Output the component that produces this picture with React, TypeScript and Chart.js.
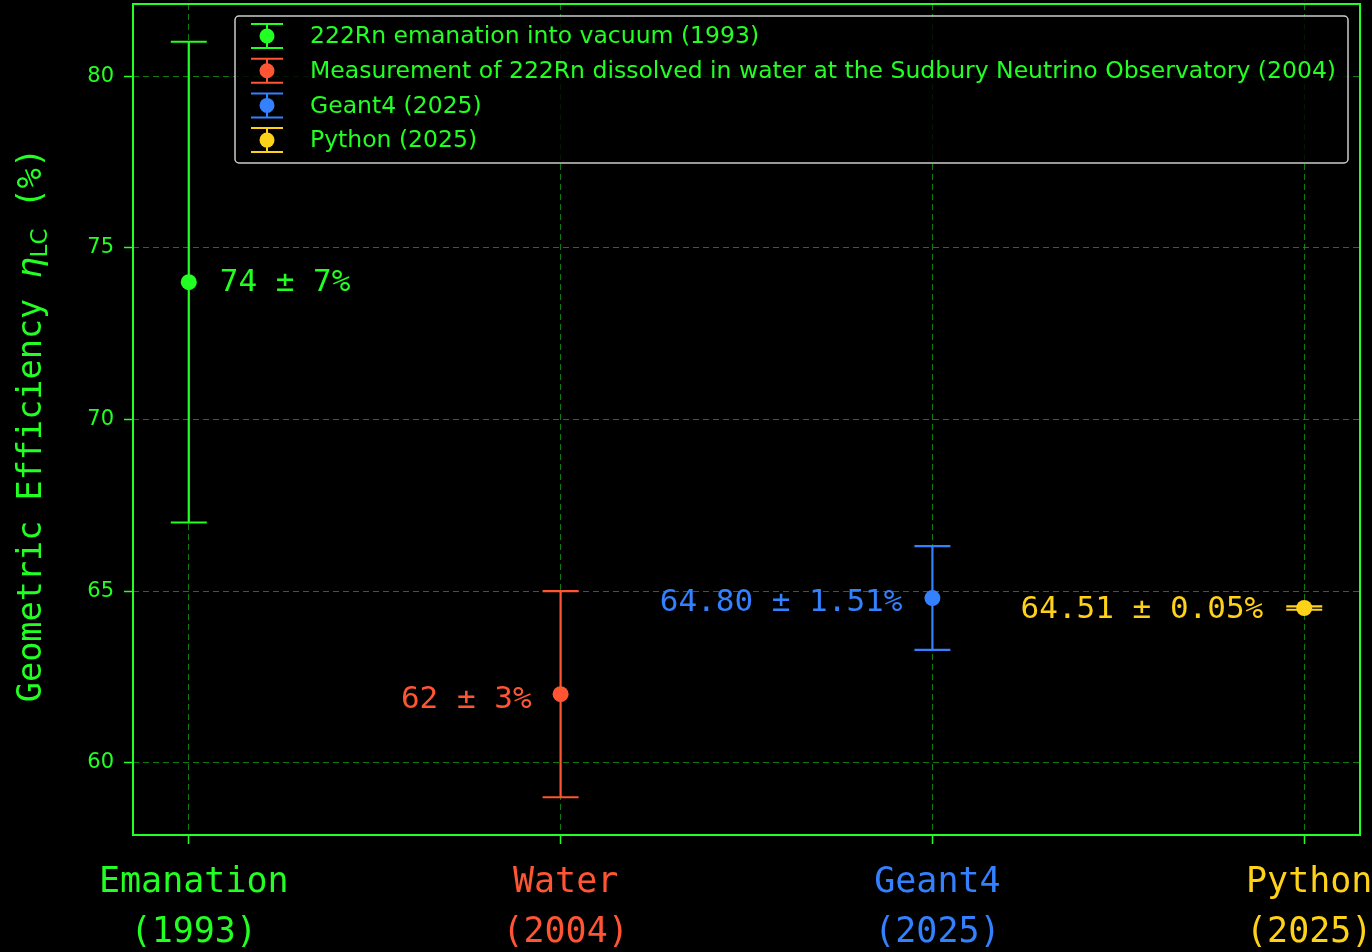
import React, { useEffect, useRef } from 'react';
import { Chart, registerables } from 'chart.js';

Chart.register(...registerables);

// ---- data ----
const categoryLines: string[][] = [
  ['Emanation', '(1993)'],
  ['Water', '(2004)'],
  ['Geant4', '(2025)'],
  ['Python', '(2025)'],
];
const xPositions = [0, 1, 2, 3];
const values = [74, 62, 64.8, 64.51];
const errors = [7, 3, 1.51, 0.05];
const annotations = ['74 ± 7%', '62 ± 3%', '64.80 ± 1.51%', '64.51 ± 0.05%'];
const legendLabels = [
  '222Rn emanation into vacuum (1993)',
  'Measurement of 222Rn dissolved in water at the Sudbury Neutrino Observatory (2004)',
  'Geant4 (2025)',
  'Python (2025)',
];
const yTicks = [60, 65, 70, 75, 80];
const yMin = 57.9;
const yMax = 82.1;
const xMin = -0.15;
const xMax = 3.15;

// ---- styles ----
const GREEN = '#22ff22';
const colors = ['#22ff22', '#ff5533', '#3381ff', '#ffd21a'];
const MONO = '"DejaVu Sans Mono", monospace';
const SANS = '"DejaVu Sans", sans-serif';
// annotation offsets (px) relative to the point: dx, dy, align
const annoStyle = [
  { dx: 31, dy: 1, align: 'left' as CanvasTextAlign },
  { dx: -29, dy: 6, align: 'right' as CanvasTextAlign },
  { dx: -30, dy: 5, align: 'right' as CanvasTextAlign },
  { dx: -41, dy: 2, align: 'right' as CanvasTextAlign },
];

const bgPlugin = {
  id: 'bg',
  beforeDraw(chart: any) {
    const { ctx, width, height } = chart;
    ctx.save();
    ctx.fillStyle = '#000';
    ctx.fillRect(0, 0, width, height);
    ctx.restore();
  },
};

const framePlugin = {
  id: 'frame',
  beforeDatasetsDraw(chart: any) {
    const { ctx, chartArea: a, scales } = chart;
    ctx.save();
    ctx.strokeStyle = GREEN;
    ctx.lineWidth = 2;
    ctx.strokeRect(a.left, a.top, a.right - a.left, a.bottom - a.top);
    ctx.restore();
    // error bars
    const x = scales.x;
    const y = scales.y;
    values.forEach((v, i) => {
      const px = x.getPixelForValue(xPositions[i]);
      const top = y.getPixelForValue(v + errors[i]);
      const bot = y.getPixelForValue(v - errors[i]);
      ctx.save();
      ctx.strokeStyle = colors[i];
      ctx.lineWidth = 2.2;
      ctx.beginPath();
      ctx.moveTo(px, top);
      ctx.lineTo(px, bot);
      ctx.moveTo(px - 18, top);
      ctx.lineTo(px + 18, top);
      ctx.moveTo(px - 18, bot);
      ctx.lineTo(px + 18, bot);
      ctx.stroke();
      ctx.restore();
    });
  },
};

const overlayPlugin = {
  id: 'overlay',
  afterDraw(chart: any) {
    const { ctx, scales } = chart;
    const x = scales.x;
    const y = scales.y;
    // annotations
    values.forEach((v, i) => {
      const px = x.getPixelForValue(xPositions[i]);
      const py = y.getPixelForValue(v);
      ctx.save();
      ctx.font = `31px ${MONO}`;
      ctx.fillStyle = colors[i];
      ctx.textAlign = annoStyle[i].align;
      ctx.textBaseline = 'middle';
      ctx.fillText(annotations[i], px + annoStyle[i].dx, py + annoStyle[i].dy);
      ctx.restore();
    });

    // legend
    const bx = 235, by = 16, bw = 1113, bh = 147;
    ctx.save();
    ctx.fillStyle = 'rgba(0,0,0,0.82)';
    ctx.strokeStyle = '#cccccc';
    ctx.lineWidth = 1.5;
    ctx.beginPath();
    (ctx as any).roundRect(bx, by, bw, bh, 4);
    ctx.fill();
    ctx.stroke();
    legendLabels.forEach((label, i) => {
      const cy = 36 + i * 34.7;
      const cx = 267;
      ctx.strokeStyle = colors[i];
      ctx.lineWidth = 2;
      ctx.beginPath();
      ctx.moveTo(cx, cy - 12);
      ctx.lineTo(cx, cy + 12);
      ctx.moveTo(cx - 16, cy - 12);
      ctx.lineTo(cx + 16, cy - 12);
      ctx.moveTo(cx - 16, cy + 12);
      ctx.lineTo(cx + 16, cy + 12);
      ctx.stroke();
      ctx.fillStyle = colors[i];
      ctx.beginPath();
      ctx.arc(cx, cy, 7.5, 0, Math.PI * 2);
      ctx.fill();
      ctx.fillStyle = GREEN;
      ctx.font = `23.5px ${SANS}`;
      ctx.textAlign = 'left';
      ctx.textBaseline = 'middle';
      ctx.fillText(label, 310, cy + 1);
    });
    ctx.restore();

    // y-axis title
    ctx.save();
    ctx.translate(32, 425);
    ctx.rotate(-Math.PI / 2);
    ctx.fillStyle = GREEN;
    ctx.textBaseline = 'middle';
    ctx.textAlign = 'left';
    const parts = [
      { t: 'Geometric Efficiency ', f: `33.5px ${MONO}`, dy: 0 },
      { t: 'η', f: `italic 33.5px ${SANS}`, dy: 0 },
      { t: 'LC', f: `23px ${SANS}`, dy: 9 },
      { t: ' (%)', f: `33.5px ${MONO}`, dy: 0 },
    ];
    let total = 0;
    parts.forEach((p) => {
      ctx.font = p.f;
      total += ctx.measureText(p.t).width;
    });
    let cur = -total / 2;
    parts.forEach((p) => {
      ctx.font = p.f;
      ctx.fillText(p.t, cur, p.dy);
      cur += ctx.measureText(p.t).width;
    });
    ctx.restore();
  },
};

export default function App() {
  const canvasRef = useRef<HTMLCanvasElement | null>(null);

  useEffect(() => {
    document.body.style.margin = '0';
    document.body.style.background = '#000';
    const canvas = canvasRef.current;
    if (!canvas) return;
    const chart = new Chart(canvas, {
      type: 'scatter',
      data: {
        datasets: values.map((v, i) => ({
          label: legendLabels[i],
          data: [{ x: xPositions[i], y: v }],
          backgroundColor: colors[i],
          borderColor: colors[i],
          pointRadius: 8,
          pointHoverRadius: 8,
          borderWidth: 0,
        })),
      },
      options: {
        animation: false,
        responsive: false,
        devicePixelRatio: 1,
        events: [],
        layout: { autoPadding: false, padding: { left: 0, right: 12, top: 4, bottom: 0 } },
        plugins: {
          legend: { display: false },
          tooltip: { enabled: false },
        },
        scales: {
          x: {
            type: 'linear',
            min: xMin,
            max: xMax,
            afterBuildTicks: (scale: any) => {
              scale.ticks = xPositions.map((v) => ({ value: v }));
            },
            afterFit: (scale: any) => {
              scale.height = 117;
              scale.paddingLeft = 0;
              scale.paddingRight = 0;
            },
            border: { display: false, dash: [6, 4] },
            grid: {
              color: 'rgba(20,190,20,0.65)',
              lineWidth: 1,
              tickLength: 9,
              tickColor: GREEN,
              tickWidth: 1.5,
            },
            ticks: {
              padding: 14,
              labelOffset: 5,
              maxRotation: 0,
              autoSkip: false,
              color: (ctx: any) => colors[ctx.index] || GREEN,
              font: { family: MONO, size: 35, lineHeight: 1.43 },
              callback: (value: any) => categoryLines[Math.round(Number(value))] || '',
            },
          },
          y: {
            type: 'linear',
            min: yMin,
            max: yMax,
            afterBuildTicks: (scale: any) => {
              scale.ticks = yTicks.map((v) => ({ value: v }));
            },
            afterFit: (scale: any) => {
              scale.width = 133;
              scale.paddingTop = 0;
              scale.paddingBottom = 0;
            },
            border: { display: false, dash: [6, 4] },
            grid: {
              color: 'rgba(20,190,20,0.65)',
              lineWidth: 1,
              tickLength: 9,
              tickColor: GREEN,
              tickWidth: 1.5,
            },
            ticks: {
              padding: 10,
              color: GREEN,
              font: { family: SANS, size: 21 },
              callback: (value: any) => String(value),
            },
          },
        },
      },
      plugins: [bgPlugin, framePlugin, overlayPlugin],
    } as any);
    return () => chart.destroy();
  }, []);

  return (
    <div style={{ width: 1372, height: 952, background: '#000' }}>
      <canvas ref={canvasRef} width={1372} height={952} style={{ display: 'block' }} />
    </div>
  );
}
